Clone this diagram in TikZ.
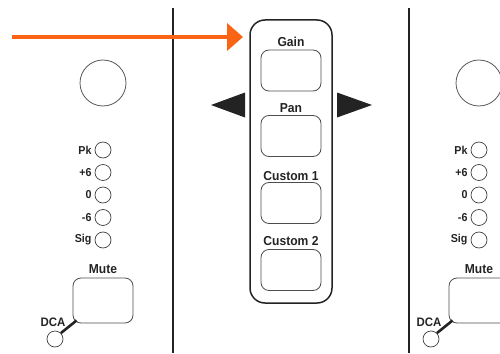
\documentclass[tikz,border=0pt]{standalone}
\usepackage{fontspec}
\setmainfont{Liberation Sans}
\newfontfamily\labelfont[FakeStretch=0.93]{Liberation Sans}
\usetikzlibrary{arrows.meta}
\definecolor{pointer}{RGB}{250,100,20}
\definecolor{ink}{RGB}{35,35,35}
\begin{document}
\begin{tikzpicture}[x=1pt,y=-1pt,
  lbl/.style={font=\labelfont\bfseries\fontsize{13}{14}\selectfont, inner sep=0pt, text=ink},
  ledlbl/.style={font=\labelfont\bfseries\fontsize{11.5}{12}\selectfont, inner sep=0pt, text=ink, anchor=east},
  knob/.style={circle, draw=black!65, line width=0.8pt, minimum size=46pt, inner sep=0pt},
  led/.style={circle, draw=black!75, line width=0.7pt, minimum size=16pt, inner sep=0pt},
  btn/.style={draw=black!70, line width=0.8pt, rounded corners=8pt, minimum width=60pt, minimum height=41pt, inner sep=0pt},
  mutebtn/.style={btn, minimum height=45pt},
  panel/.style={draw=ink, line width=1.5pt, rounded corners=15pt, minimum width=82pt, minimum height=283pt, inner sep=0pt},
  divider/.style={line width=2.6pt, ink},
  dcalink/.style={line width=2.6pt, ink},
  pointerarrow/.style={line width=4pt, pointer, -{Triangle[length=16pt,width=27pt]}},
  tri/.style={fill=ink, draw=none}]
\useasboundingbox (0,0) rectangle (500,353);
\clip (0,0) rectangle (500,353);

% channel strips
\foreach \n/\ox in {L/0,R/376}{
  \begin{scope}[xshift=\ox pt]
    \node[knob] (knob\n) at (103,83) {};
    \node[led] (pk\n)  at (103,150) {};
    \node[led] (p6\n)  at (103,172.5) {};
    \node[led] (z\n)   at (103,195) {};
    \node[led] (m6\n)  at (103,217.5) {};
    \node[led] (sig\n) at (103,240) {};
    \node[ledlbl] (pkl\n)  at ([xshift=-3pt]pk\n.west) {Pk};
    \node[ledlbl] (p6l\n)  at ([xshift=-3pt]p6\n.west) {+6};
    \node[ledlbl] (zl\n)   at ([xshift=-3pt]z\n.west) {0};
    \node[ledlbl] (m6l\n)  at ([xshift=-3pt]m6\n.west) {-6};
    \node[ledlbl] (sigl\n) at ([xshift=-3pt]sig\n.west) {Sig};
    \node[lbl] (mutel\n) at (103,269) {Mute};
    \node[mutebtn] (mute\n) at (103,300.5) {};
    \node[lbl, font=\labelfont\bfseries\fontsize{12.3}{13}\selectfont] (dcal\n) at (53,322) {DCA};
    \node[led] (dca\n) at (55,339) {};
    \draw[dcalink] (dca\n.45) -- ([xshift=4pt,yshift=3pt]mute\n.south west);
  \end{scope}
}

% dividers
\coordinate (d1top) at (173,8);
\coordinate (d1bot) at (173,353);
\coordinate (d2top) at (409,8);
\coordinate (d2bot) at (409,353);
\draw[divider] (d1top) -- (d1bot);
\draw[divider] (d2top) -- (d2bot);

% central panel
\node[panel] (panel) at (291,161.5) {};
\node[lbl] (gainl) at (291,42) {Gain};
\node[btn] (gain) at (291,70.5) {};
\node[lbl] (panl) at (291,108) {Pan};
\node[btn] (pan) at (291,136) {};
\node[lbl] (c1l) at (291,176) {Custom 1};
\node[btn] (c1) at (291,203) {};
\node[lbl] (c2l) at (291,241) {Custom 2};
\node[btn] (c2) at (291,270) {};

% scroll triangles
\fill[tri] (211,105) -- (245,92.5) -- (245,117.5) -- cycle;
\fill[tri] (372,105) -- (337,92.5) -- (337,117.5) -- cycle;

% pointer
\coordinate (pstart) at (12,37);
\coordinate (pend) at (243,37);
\draw[pointerarrow] (pstart) -- (pend);
\end{tikzpicture}
\end{document}
